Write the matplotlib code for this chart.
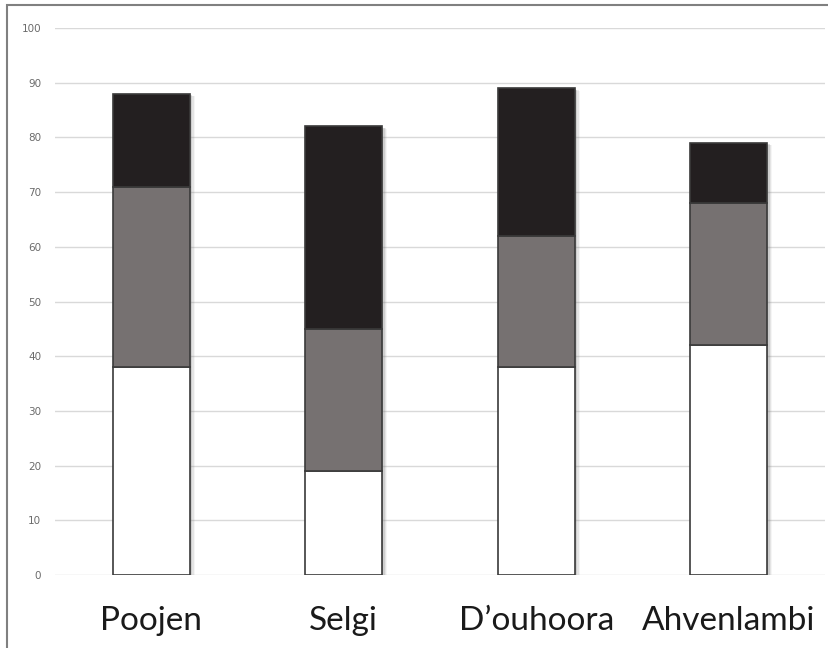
import matplotlib
matplotlib.use("Agg")
import matplotlib.pyplot as plt
import matplotlib.transforms as mtransforms
from matplotlib.patches import Rectangle
import numpy as np

categories = ["Poojen", "Selgi", "D\u2019ouhoora", "Ahvenlambi"]
bottom_seg = [38, 19, 38, 42]
middle_seg = [33, 26, 24, 26]
top_seg = [17, 37, 27, 11]
y_ticks = [0, 10, 20, 30, 40, 50, 60, 70, 80, 90, 100]

W, H = 829, 648
fig = plt.figure(figsize=(W / 100, H / 100), dpi=100)
ax = fig.add_axes([55 / W, 1 - 575 / H, (825 - 55) / W, (575 - 28) / H])

x = np.arange(len(categories))
bw = 0.4
b = np.array(bottom_seg)
m = np.array(middle_seg)
t = np.array(top_seg)
total = b + m + t

# soft drop shadow behind each stacked bar
for dx, dy, a in [(1, -1, 0.3), (2.5, -1.5, 0.22), (4, -2, 0.14), (5, -2.5, 0.08)]:
    tr = mtransforms.offset_copy(ax.transData, fig=fig, x=dx, y=dy, units="dots")
    ax.bar(x, total, bw, color="#808080", alpha=a, linewidth=0, transform=tr, zorder=2)

edge = "#3a3a3a"
ax.bar(x, b, bw, color="white", edgecolor=edge, linewidth=1.2, zorder=3)
ax.bar(x, m, bw, bottom=b, color="#767171", edgecolor=edge, linewidth=1.2, zorder=3)
ax.bar(x, t, bw, bottom=b + m, color="#231f20", edgecolor=edge, linewidth=1.2, zorder=3)

ax.set_xlim(-0.5, len(categories) - 0.5)
ax.set_ylim(0, 100)
ax.set_yticks(y_ticks)
ax.set_yticklabels([str(v) for v in y_ticks], fontsize=7.5, color="#6b6b6b",
                   family="DejaVu Sans")
ax.yaxis.grid(True, color="#d9d9d9", linewidth=1)
ax.set_axisbelow(True)
for s in ax.spines.values():
    s.set_visible(False)
ax.tick_params(axis="y", length=0, pad=10)
ax.tick_params(axis="x", length=0, pad=22)
ax.set_xticks(x)
ax.set_xticklabels(categories, fontsize=24, color="#1a1a1a", family="Lato")

# outer frame of the figure
fig.patches.append(Rectangle((7 / W, -0.1), 1.2, 1.1 - 5 / H,
                             transform=fig.transFigure, fill=False,
                             edgecolor="#808080", linewidth=1.5))

fig.savefig("out.png", dpi=100)
